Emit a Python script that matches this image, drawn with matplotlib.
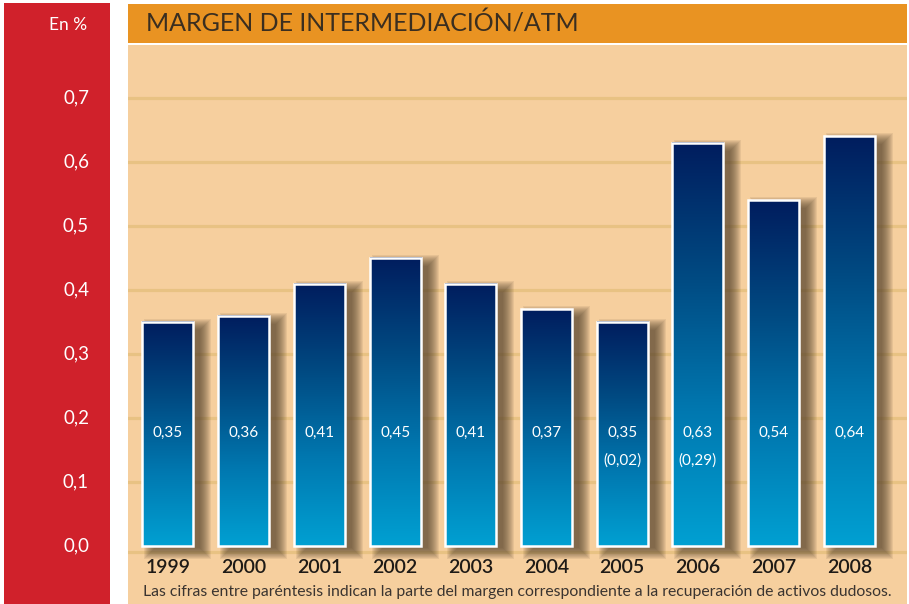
import matplotlib
matplotlib.use("Agg")
import matplotlib.pyplot as plt
import numpy as np
from matplotlib.patches import Rectangle
from matplotlib.colors import LinearSegmentedColormap

# ---- data ----
years = ["1999", "2000", "2001", "2002", "2003", "2004", "2005", "2006", "2007", "2008"]
values = [0.35, 0.36, 0.41, 0.45, 0.41, 0.37, 0.35, 0.63, 0.54, 0.64]
recovery = [None, None, None, None, None, None, 0.02, 0.29, None, None]
yticks = [0.0, 0.1, 0.2, 0.3, 0.4, 0.5, 0.6, 0.7]
title = "MARGEN DE INTERMEDIACIÓN/ATM"
unit_label = "En %"
note = ("Las cifras entre paréntesis indican la parte del margen correspondiente "
        "a la recuperación de activos dudosos.")

def fmt(v):
    return f"{v:.2f}".replace(".", ",")

plt.rcParams['font.family'] = ['Lato', 'DejaVu Sans']

W, H = 909, 604
fig = plt.figure(figsize=(W / 100, H / 100), dpi=100)
fig.patch.set_facecolor("white")

RED = "#d0212b"
ORANGE = "#e99322"
PEACH = "#f6cf9e"
GRID = "#e8c283"

# red side panel
fig.patches.append(Rectangle((4 / W, 0), 106 / W, (H - 3) / H, transform=fig.transFigure,
                             facecolor=RED, edgecolor="none", zorder=0))
# orange title bar
fig.patches.append(Rectangle((128 / W, (H - 43) / H), 779 / W, 39 / H, transform=fig.transFigure,
                             facecolor=ORANGE, edgecolor="none", zorder=0))

ax = fig.add_axes([128 / W, 0, 779 / W, (H - 45) / H])
ax.set_facecolor(PEACH)
for s in ax.spines.values():
    s.set_visible(False)
ax.set_xticks([])
ax.set_yticks([])

XLIM = (-0.528, 9.762)
YLIM = (-0.0906, 0.7828)
ax.set_xlim(*XLIM)
ax.set_ylim(*YLIM)

px_x = (XLIM[1] - XLIM[0]) / 779
px_y = (YLIM[1] - YLIM[0]) / 559

# gridlines
for t in yticks[1:]:
    ax.axhline(t, color=GRID, lw=2.3, zorder=1)
# base line just under the bars
ax.axhline(yticks[0] - 6 * px_y, color=GRID, lw=2.3, zorder=1)

width = 0.674
cmap = LinearSegmentedColormap.from_list("bg", ["#00a0d2", "#0078b0", "#004a82", "#001d5e"])
grad = np.linspace(0, 1, 256).reshape(-1, 1)

x = np.arange(len(years))
for i, v in enumerate(values):
    x0 = x[i] - width / 2
    # soft shadow (stacked translucent rectangles)
    dx, dy = 10 * px_x, -5 * px_y
    for e in np.linspace(8, -3, 12):
        ax.add_patch(Rectangle((x0 + dx - e * px_x, dy - e * px_y),
                               width + 2 * e * px_x, v + 2 * e * px_y,
                               facecolor="#55412b", edgecolor="none", alpha=0.095, zorder=2))
    # gradient bar
    ax.imshow(grad, extent=[x0, x0 + width, 0, v], origin="lower", cmap=cmap,
              aspect="auto", zorder=3, interpolation="bilinear")

bars = ax.bar(x, values, width=width, facecolor="none", edgecolor="white", lw=1.8, zorder=4)

# value labels
for i, v in enumerate(values):
    ax.text(x[i], 0.177, fmt(v), ha="center", va="center", color="white", fontsize=11, zorder=5)
    if recovery[i] is not None:
        ax.text(x[i], 0.134, "(" + fmt(recovery[i]) + ")", ha="center", va="center",
                color="white", fontsize=11, zorder=5)

# year labels
for i, yr in enumerate(years):
    ax.text(x[i], -0.033, yr, ha="center", va="center", color="#1e1a16",
            fontsize=14, fontweight="semibold", zorder=5)

ax.set_xlim(*XLIM)
ax.set_ylim(*YLIM)

# y tick labels in the red panel, positioned through the axes' scale
fig.canvas.draw()
for t in yticks:
    yd = ax.transData.transform((0, t))[1]
    fig.text(89 / W, yd / H, f"{t:.1f}".replace(".", ","), ha="right", va="center",
             color="white", fontsize=13.5)

fig.text(87 / W, (H - 25) / H, unit_label, ha="right", va="center", color="white", fontsize=12.5)
fig.text(146 / W, (H - 23) / H, title, ha="left", va="center", color="#3a2e20",
         fontsize=18, fontweight="normal")
fig.text(143 / W, (H - 592) / H, note, ha="left", va="center", color="#3a3430", fontsize=11.3)

fig.savefig("out.png", dpi=100)
